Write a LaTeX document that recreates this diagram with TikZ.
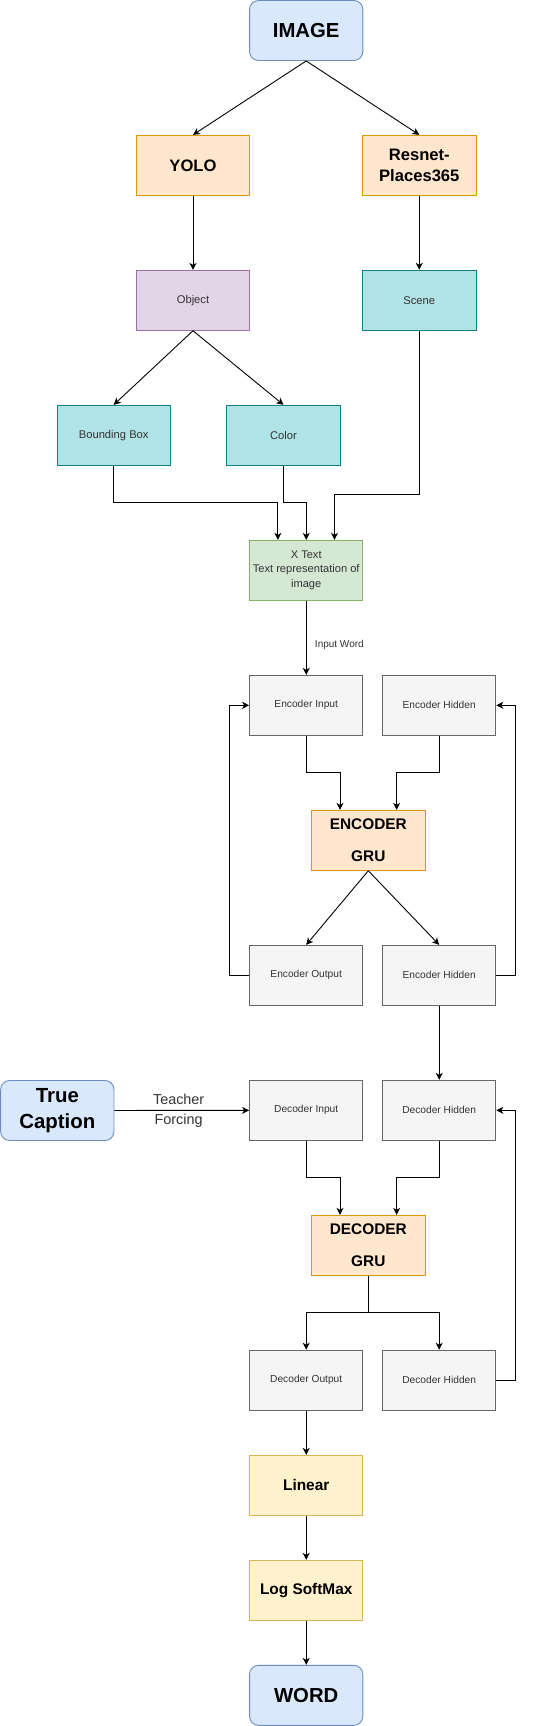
\documentclass[tikz,border=0pt]{standalone}
\usepackage{fontspec}
\setmainfont{Liberation Sans}
\usepackage{tikz}
\usetikzlibrary{positioning, arrows.meta}
\definecolor{inoutFill}{HTML}{DAE8FC}
\definecolor{inoutLine}{HTML}{6C8EBF}
\definecolor{netFill}{HTML}{FFE6CC}
\definecolor{netLine}{HTML}{D79B00}
\definecolor{objFill}{HTML}{E1D5E7}
\definecolor{objLine}{HTML}{9673A6}
\definecolor{featFill}{HTML}{B0E3E6}
\definecolor{featLine}{HTML}{0E8088}
\definecolor{txtFill}{HTML}{D5E8D4}
\definecolor{txtLine}{HTML}{82B366}
\definecolor{stateFill}{HTML}{F5F5F5}
\definecolor{stateLine}{HTML}{666666}
\definecolor{stateText}{HTML}{333333}
\definecolor{outFill}{HTML}{FFF2CC}
\definecolor{outLine}{HTML}{D6B656}

\begin{document}
\begin{tikzpicture}[
    x=1pt, y=-1pt,
    box/.style={
        rectangle,
        draw,
        line width=0.9pt,
        minimum width=113.3pt,
        minimum height=60pt,
        inner sep=0pt,
        align=center,
    },
    inout/.style={box, rounded corners=9pt, fill=inoutFill, draw=inoutLine,
        font=\fontsize{20.3}{24}\selectfont\bfseries},
    net/.style={box, fill=netFill, draw=netLine,
        font=\fontsize{16.6}{21.7}\selectfont\bfseries},
    gru/.style={box, fill=netFill, draw=netLine,
        font=\fontsize{15.4}{32}\selectfont\bfseries},
    obj/.style={box, fill=objFill, draw=objLine, text=stateText,
        font=\fontsize{11.2}{14}\selectfont},
    feat/.style={box, fill=featFill, draw=featLine, text=stateText,
        font=\fontsize{11.2}{14}\selectfont},
    txt/.style={box, fill=txtFill, draw=txtLine, text=stateText,
        font=\fontsize{11.1}{14.7}\selectfont},
    state/.style={box, fill=stateFill, draw=stateLine, text=stateText,
        font=\fontsize{10.2}{13}\selectfont},
    outl/.style={box, fill=outFill, draw=outLine,
        font=\fontsize{15.4}{19}\selectfont\bfseries},
    flow/.style={-{Stealth[length=7pt, width=7pt, inset=2pt]}, line width=0.9pt},
    lbl/.style={font=\fontsize{10}{12}\selectfont, text=stateText},
    tf/.style={font=\fontsize{14.4}{20}\selectfont, text=stateText, align=center}
]
\useasboundingbox (0,0) rectangle (554,1726);

\node[inout] (Img) at (306.2,30.5) {IMAGE};
\node[net] (Yolo) at (193,165.3) {YOLO};
\node[net] (Res) at (419.3,165.3) {Resnet-\\Places365};
\node[obj] (Obj) at (193,300.3) {Object};
\node[feat] (Scene) at (419.3,300.3) {Scene};
\node[feat] (BBox) at (113.7,435.3) {Bounding Box};
\node[feat] (Col) at (283.5,435.3) {Color};
\node[txt] (XText) at (306.2,570.3) {X Text\\Text representation of\\image};

\node[state] (EncIn) at (306.2,705.3) {Encoder Input};
\node[state] (EncHid) at (439.2,705.3) {Encoder Hidden};
\node[gru] (EncGRU) at (368.3,840.3) {ENCODER\\GRU};
\node[state] (EncOut) at (306.2,975.3) {Encoder Output};
\node[state] (EncHidB) at (439.2,975.3) {Encoder Hidden};

\node[inout, font=\fontsize{20.4}{26.7}\selectfont\bfseries] (TrueCap) at (57.3,1110.5) {True\\Caption};
\node[state] (DecIn) at (306.2,1110.3) {Decoder Input};
\node[state] (DecHid) at (439.2,1110.3) {Decoder Hidden};
\node[gru] (DecGRU) at (368.3,1245.3) {DECODER\\GRU};
\node[state] (DecOut) at (306.2,1380.2) {Decoder Output};
\node[state] (DecHidB) at (439.2,1380.2) {Decoder Hidden};

\node[outl] (Lin) at (306.2,1485.3) {Linear};
\node[outl] (LogSM) at (306.2,1590.3) {Log SoftMax};
\node[inout] (Word) at (306.2,1695.3) {WORD};

% image features
\draw[flow] (Img.south) -- (Yolo.north);
\draw[flow] (Img.south) -- (Res.north);
\draw[flow] (Yolo) -- (Obj);
\draw[flow] (Res) -- (Scene);
\draw[flow] (Obj.south) -- (BBox.north);
\draw[flow] (Obj.south) -- (Col.north);
\draw[flow] (BBox.south) |- ([xshift=-28.3pt,yshift=37.6pt]XText.north) -- ([xshift=-28.3pt]XText.north);
\draw[flow] (Col.south) |- ([yshift=37.6pt]XText.north) -- (XText.north);
\draw[flow] (Scene.south) |- ([xshift=28.3pt,yshift=45pt]XText.north) -- ([xshift=28.3pt]XText.north);
\draw[flow] (XText) -- node[lbl, right, pos=0.6, xshift=5pt] {Input Word} (EncIn);

% encoder
\draw[flow] (EncIn.south) |- ([xshift=-28.3pt,yshift=37.6pt]EncGRU.north) -- ([xshift=-28.3pt]EncGRU.north);
\draw[flow] (EncHid.south) |- ([xshift=28.3pt,yshift=37.6pt]EncGRU.north) -- ([xshift=28.3pt]EncGRU.north);
\draw[flow] (EncGRU.south) -- (EncOut.north);
\draw[flow] (EncGRU.south) -- (EncHidB.north);
\draw[flow] (EncOut.west) -- ++(-19.3,0) |- (EncIn.west);
\draw[flow] (EncHidB.east) -- ++(18.7,0) |- (EncHid.east);
\draw[flow] (EncHidB) -- (DecHid);

% decoder
\draw[flow] (TrueCap) -- node[tf, pos=0.477] {Teacher\\Forcing} (DecIn);
\draw[flow] (DecIn.south) |- ([xshift=-28.3pt,yshift=37.6pt]DecGRU.north) -- ([xshift=-28.3pt]DecGRU.north);
\draw[flow] (DecHid.south) |- ([xshift=28.3pt,yshift=37.6pt]DecGRU.north) -- ([xshift=28.3pt]DecGRU.north);
\draw[flow] (DecGRU.south) |- ([yshift=37.3pt]DecOut.north) -- (DecOut.north);
\draw[flow] (DecGRU.south) |- ([yshift=37.3pt]DecHidB.north) -- (DecHidB.north);
\draw[flow] (DecHidB.east) -- ++(18.7,0) |- (DecHid.east);
\draw[flow] (DecOut) -- (Lin);
\draw[flow] (Lin) -- (LogSM);
\draw[flow] (LogSM) -- (Word);
\end{tikzpicture}
\end{document}
